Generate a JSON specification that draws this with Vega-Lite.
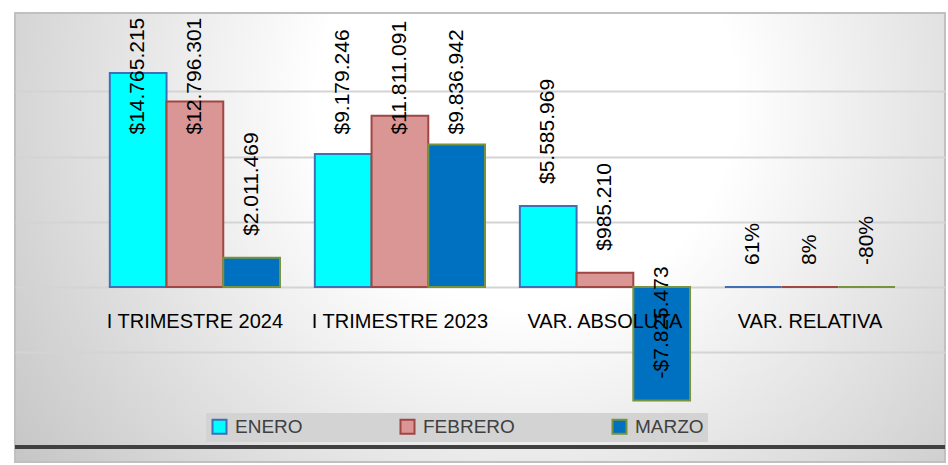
{
  "$schema": "https://vega.github.io/schema/vega-lite/v6.json",
  "width": 930,
  "height": 449,
  "padding": {"left": 15, "top": 13, "right": 3, "bottom": 3},
  "autosize": {"type": "none"},
  "background": "white",
  "config": {
    "font": "Liberation Sans",
    "view": {
      "stroke": "#c0c0c0",
      "strokeWidth": 2,
      "fill": {
        "gradient": "radial",
        "x1": 0.55, "y1": 0.35, "r1": 0,
        "x2": 0.55, "y2": 0.35, "r2": 0.75,
        "stops": [
          {"offset": 0, "color": "#ffffff"},
          {"offset": 0.3, "color": "#ffffff"},
          {"offset": 1, "color": "#bcbcbc"}
        ]
      }
    }
  },
  "data": {
    "values": [
      {"cat": "I TRIMESTRE 2024", "mes": "ENERO", "valor": 14765215, "etiqueta": "$14.765.215"},
      {"cat": "I TRIMESTRE 2024", "mes": "FEBRERO", "valor": 12796301, "etiqueta": "$12.796.301"},
      {"cat": "I TRIMESTRE 2024", "mes": "MARZO", "valor": 2011469, "etiqueta": "$2.011.469"},
      {"cat": "I TRIMESTRE 2023", "mes": "ENERO", "valor": 9179246, "etiqueta": "$9.179.246"},
      {"cat": "I TRIMESTRE 2023", "mes": "FEBRERO", "valor": 11811091, "etiqueta": "$11.811.091"},
      {"cat": "I TRIMESTRE 2023", "mes": "MARZO", "valor": 9836942, "etiqueta": "$9.836.942"},
      {"cat": "VAR. ABSOLUTA", "mes": "ENERO", "valor": 5585969, "etiqueta": "$5.585.969"},
      {"cat": "VAR. ABSOLUTA", "mes": "FEBRERO", "valor": 985210, "etiqueta": "$985.210"},
      {"cat": "VAR. ABSOLUTA", "mes": "MARZO", "valor": -7825473, "etiqueta": "-$7.825.473"},
      {"cat": "VAR. RELATIVA", "mes": "ENERO", "valor": 0.61, "etiqueta": "61%"},
      {"cat": "VAR. RELATIVA", "mes": "FEBRERO", "valor": 0.08, "etiqueta": "8%"},
      {"cat": "VAR. RELATIVA", "mes": "MARZO", "valor": -0.8, "etiqueta": "-80%"}
    ]
  },
  "layer": [
    {
      "mark": {"type": "rule", "color": "#404040", "strokeWidth": 3},
      "encoding": {
        "y": {"datum": -11030000, "type": "quantitative"}
      }
    },
    {
      "mark": {"type": "bar", "strokeWidth": 2},
      "encoding": {
        "x": {
          "field": "cat", "type": "nominal",
          "sort": ["I TRIMESTRE 2024", "I TRIMESTRE 2023", "VAR. ABSOLUTA", "VAR. RELATIVA"],
          "scale": {"paddingInner": 0.17, "paddingOuter": 0.353, "align": 0.655},
          "axis": {
            "title": null, "orient": "bottom", "offset": -157, "zindex": 2,
            "domain": false, "ticks": false, "labelAngle": 0,
            "labelFontSize": 20, "labelColor": "#000000", "labelPadding": 6,
            "labelLimit": 300
          }
        },
        "xOffset": {"field": "mes", "type": "nominal", "sort": ["ENERO", "FEBRERO", "MARZO"]},
        "y": {
          "field": "valor", "type": "quantitative",
          "scale": {"domain": [-12070000, 18900000], "nice": false, "zero": false},
          "axis": {
            "title": null, "labels": false, "ticks": false, "domain": false,
            "grid": true, "values": [-4500000, 0, 4500000, 9000000, 13500000],
            "gridColor": "#d4d4d4", "gridWidth": 2
          }
        },
        "fill": {
          "field": "mes", "type": "nominal",
          "sort": ["ENERO", "FEBRERO", "MARZO"],
          "scale": {"domain": ["ENERO", "FEBRERO", "MARZO"], "range": ["#00FFFF", "#DA9694", "#0070C0"]},
          "legend": {
            "title": null, "orient": "none", "legendX": 191, "legendY": 400,
            "direction": "horizontal", "symbolType": "square", "symbolSize": 196,
            "symbolStrokeWidth": 2, "labelFontSize": 19, "labelColor": "#404040",
            "columnPadding": 93, "labelOffset": 6, "fillColor": "#d3d3d3", "padding": 4
          }
        },
        "stroke": {
          "field": "mes", "type": "nominal",
          "sort": ["ENERO", "FEBRERO", "MARZO"],
          "scale": {"domain": ["ENERO", "FEBRERO", "MARZO"], "range": ["#3F6FB5", "#A04643", "#77933C"]},
          "legend": {
            "title": null, "orient": "none", "legendX": 191, "legendY": 400,
            "direction": "horizontal", "symbolType": "square", "symbolSize": 196,
            "symbolStrokeWidth": 2, "labelFontSize": 19, "labelColor": "#404040",
            "columnPadding": 93, "labelOffset": 6, "fillColor": "#d3d3d3", "padding": 4
          }
        }
      }
    },
    {
      "transform": [{"calculate": "min(datum.valor, 9000000)", "as": "posEtiqueta"}],
      "mark": {"type": "text", "angle": 270, "align": "left", "baseline": "middle", "dx": 22, "fontSize": 21, "color": "#000000"},
      "encoding": {
        "x": {"field": "cat", "type": "nominal", "sort": ["I TRIMESTRE 2024", "I TRIMESTRE 2023", "VAR. ABSOLUTA", "VAR. RELATIVA"]},
        "xOffset": {"field": "mes", "type": "nominal", "sort": ["ENERO", "FEBRERO", "MARZO"]},
        "y": {"field": "posEtiqueta", "type": "quantitative"},
        "text": {"field": "etiqueta"}
      }
    }
  ]
}
